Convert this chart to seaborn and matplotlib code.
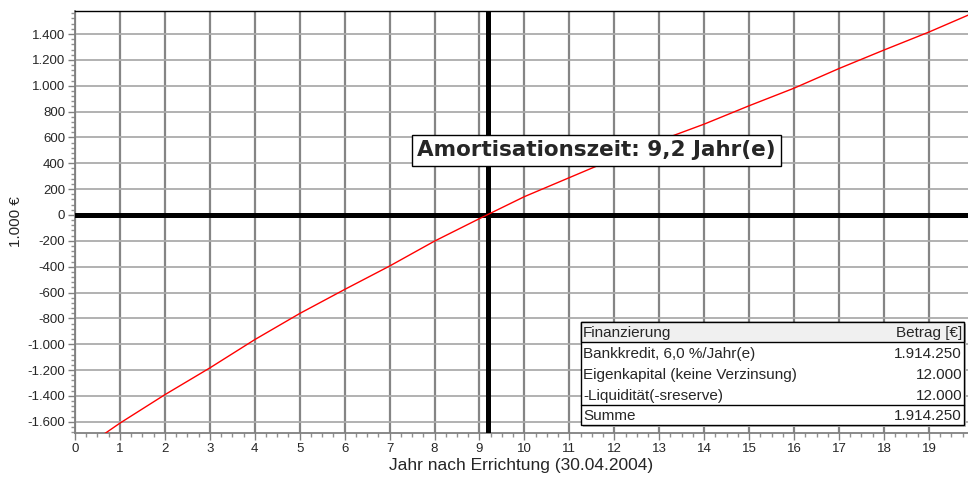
import matplotlib.pyplot as plt
import seaborn as sns
import pandas as pd
from matplotlib.ticker import MultipleLocator, FuncFormatter
from matplotlib.patches import Rectangle

# Liquiditaetsverlauf (1.000 €) je Jahr nach Errichtung
jahre = list(range(0, 21))
betrag = [-1850, -1610, -1390, -1183, -964, -762, -576, -395, -202, -28, 142,
          289, 436, 574, 703, 845, 981, 1133, 1276, 1415, 1565]

amortisation = 9.2

tabelle_kopf = ['Finanzierung', 'Betrag [€]']
tabelle_posten = ['Bankkredit, 6,0 %/Jahr(e)', 'Eigenkapital (keine Verzinsung)',
                  '-Liquidität(-sreserve)']
tabelle_werte = ['1.914.250', '12.000', '12.000']
tabelle_summe = ['Summe', '1.914.250']

sns.set_style('white')
plt.rcParams['font.family'] = ['Liberation Sans', 'DejaVu Sans']

fig = plt.figure(figsize=(9.68, 4.78), dpi=100)
ax = fig.add_axes([0.0775, 0.094, 0.9225, 0.883])

df = pd.DataFrame({'Jahr': jahre, 'Betrag': betrag})
sns.lineplot(data=df, x='Jahr', y='Betrag', color='red', lw=1, ax=ax, zorder=5)

ax.set_xlim(0, 19.87)
ax.set_ylim(-1687, 1578)

# Achsen / Ticks
ax.xaxis.set_major_locator(MultipleLocator(1))
ax.xaxis.set_minor_locator(MultipleLocator(0.25))
ax.yaxis.set_major_locator(MultipleLocator(200))
ax.yaxis.set_minor_locator(MultipleLocator(40))
ax.yaxis.set_major_formatter(FuncFormatter(lambda v, p: f'{int(v):,}'.replace(',', '.')))
ax.tick_params(which='major', length=5, width=1, color='#808080', labelsize=9.5, pad=2)
ax.tick_params(which='minor', length=3, width=1, color='#909090')
ax.tick_params(axis='y', left=True, which='both')
ax.tick_params(axis='x', bottom=True, which='both')

ax.grid(axis='x', which='major', color='#858585', lw=1.6)
ax.grid(axis='y', which='major', color='#ababab', lw=1.3)
ax.set_axisbelow(True)

for s in ['left', 'bottom']:
    ax.spines[s].set_color('#808080')
    ax.spines[s].set_linewidth(1.3)
ax.spines['top'].set_color('black')
ax.spines['top'].set_linewidth(1)
ax.spines['right'].set_visible(False)

ax.axhline(0, color='black', lw=3.6, zorder=4)
ax.axvline(amortisation, color='black', lw=3.6, zorder=4)

ax.set_xlabel('Jahr nach Errichtung (30.04.2004)', fontsize=12.5, labelpad=2)
ax.set_ylabel('1.000 €', fontsize=11, labelpad=3)

ax.text(11.6, 500, 'Amortisationszeit: 9,2 Jahr(e)', ha='center', va='center',
        fontsize=15.5, fontweight='bold', family='DejaVu Sans', zorder=7,
        bbox=dict(boxstyle='square,pad=0.25', fc='white', ec='black', lw=1))

# Finanzierungstabelle (in Pixelkoordinaten des Bildes)
def px(x, y):
    return (x - 75) / 893, (433 - y) / 422

tr = ax.transAxes
x0, x1 = 581, 964
zeilen = [322, 342, 363, 384, 405, 425]
# Schatten
sx, sy = px(x0 + 2, zeilen[-1] + 2)
ex, ey = px(x1 + 2, zeilen[0] + 2)
ax.add_patch(Rectangle((sx, sy), ex - sx, ey - sy, transform=tr, fc='#c0c0c0',
                       ec='none', zorder=7, clip_on=False))
bx, by = px(x0, zeilen[-1])
tx, ty = px(x1, zeilen[0])
ax.add_patch(Rectangle((bx, by), tx - bx, ty - by, transform=tr, fc='white',
                       ec='black', lw=1, zorder=8, clip_on=False))
hx, hy = px(x0, zeilen[1])
ax.add_patch(Rectangle((bx, hy), tx - bx, ty - hy, transform=tr, fc='#f0f0f0',
                       ec='black', lw=1, zorder=8, clip_on=False))
ly = px(x0, zeilen[4])[1]
ax.plot([bx, tx], [ly, ly], transform=tr, color='black', lw=1, zorder=9, clip_on=False)

alle_zeilen = [tabelle_kopf] + [[a, b] for a, b in zip(tabelle_posten, tabelle_werte)] + [tabelle_summe]
for i, (links, rechts) in enumerate(alle_zeilen):
    ym = (zeilen[i] + zeilen[i + 1]) / 2 + 1
    lx, yy = px(x0 + 2, ym)
    rx, _ = px(x1 - 2, ym)
    ax.text(lx, yy, links, transform=tr, ha='left', va='center', fontsize=11, zorder=10)
    ax.text(rx, yy, rechts, transform=tr, ha='right', va='center', fontsize=11, zorder=10)

fig.savefig('out.png', dpi=100)
